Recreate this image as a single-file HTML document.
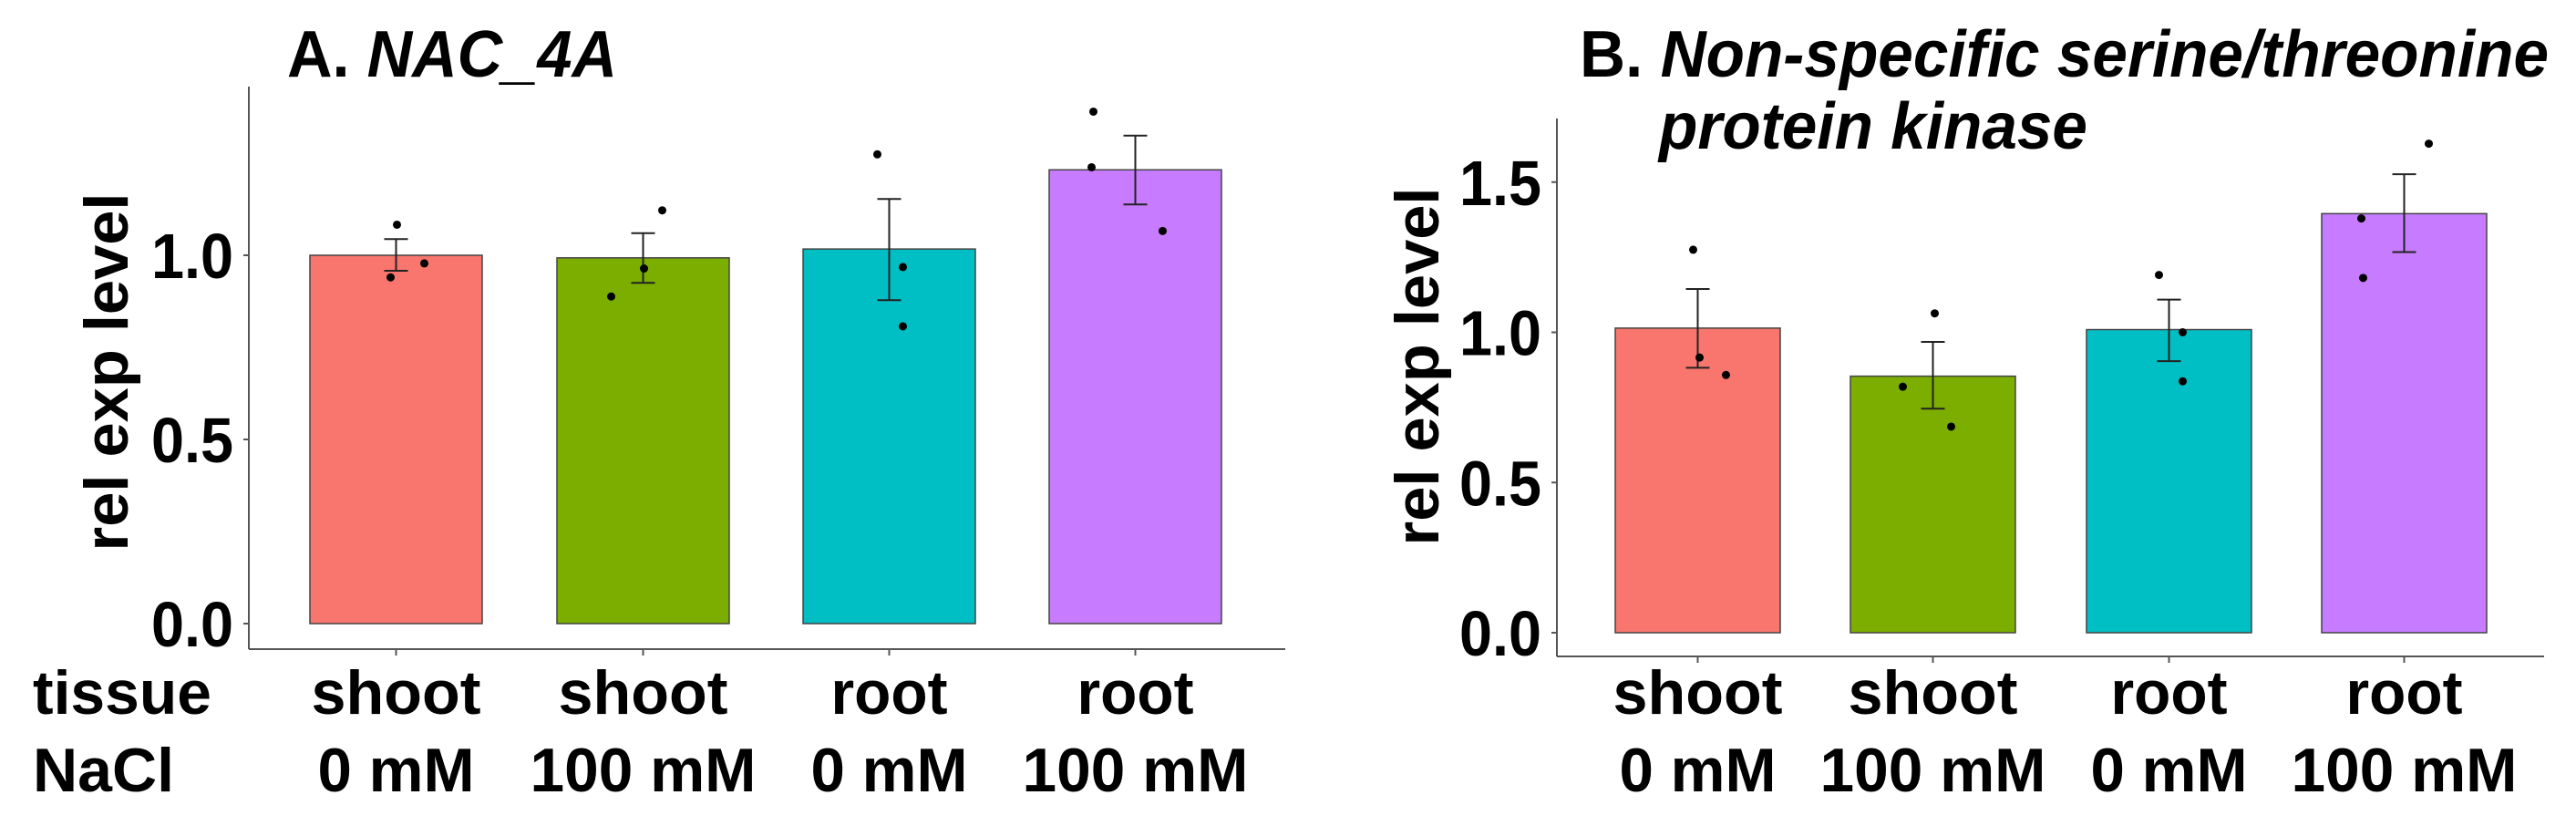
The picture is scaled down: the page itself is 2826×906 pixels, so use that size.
<!DOCTYPE html>
<html><head><meta charset="utf-8">
<style>
html,body{margin:0;padding:0;background:#fff;}
svg{display:block;font-family:"Liberation Sans",Arial,sans-serif;font-weight:bold;}
</style></head>
<body>
<svg id="fig" width="2826" height="906" viewBox="0 0 2826 906" xmlns="http://www.w3.org/2000/svg">
<g id="panelA"></g>
<g id="panelB"></g>
</svg>
<script>
const categories = ["shoot 0 mM","shoot 100 mM","root 0 mM","root 100 mM"];
const tissueLabels = ["shoot","shoot","root","root"];
const naclLabels = ["0 mM","100 mM","0 mM","100 mM"];
const colors = ["#F8766D","#7CAE00","#00BFC4","#C77CFF"];

const meansA = [1.0, 0.993, 1.017, 1.232];
const errHiA = [1.044, 1.06, 1.153, 1.325];
const errLoA = [0.958, 0.925, 0.878, 1.138];
const pointsA = [[1.083,0.978,0.94],[1.122,0.964,0.888],[1.274,0.968,0.807],[1.39,1.239,1.066]];
const ticksA = [0.0, 0.5, 1.0];
const tickLabelsA = ["0.0","0.5","1.0"];

const meansB = [1.014, 0.854, 1.009, 1.395];
const errHiB = [1.144, 0.968, 1.109, 1.526];
const errLoB = [0.882, 0.746, 0.904, 1.267];
const pointsB = [[1.275,0.916,0.858],[1.063,0.819,0.686],[1.191,1.0,0.837],[1.628,1.379,1.181]];
const ticksB = [0.0, 0.5, 1.0, 1.5];
const tickLabelsB = ["0.0","0.5","1.0","1.5"];

const NS = "http://www.w3.org/2000/svg";
function mk(parent, tag, attrs, text){
  const e = document.createElementNS(NS, tag);
  for (const k in attrs) e.setAttribute(k, attrs[k]);
  if (text !== undefined) e.textContent = text;
  parent.appendChild(e);
  return e;
}

function drawPanel(g, cfg){
  const y = v => cfg.y0 - v*cfg.unit;
  const xc = i => cfg.barL[i] + cfg.barW/2;
  // axes
  let a = mk(g,'line',{x1:cfg.axX,y1:cfg.axTop,x2:cfg.axX,y2:cfg.axY,stroke:'#555','stroke-width':2});
  
  
  a = mk(g,'line',{x1:cfg.axX,y1:cfg.axY,x2:cfg.axR,y2:cfg.axY,stroke:'#555','stroke-width':2});
  
  
  // y ticks
  cfg.ticks.forEach((t,i)=>{
    const tk = mk(g,'line',{x1:cfg.axX-6,y1:y(t),x2:cfg.axX,y2:y(t),stroke:'#555','stroke-width':2});
    
    
    const tl = mk(g,'text',{x:cfg.axX-17,y:y(t)+25,'text-anchor':'end','font-size':70,textLength:90,lengthAdjust:'spacingAndGlyphs'},cfg.tickLabels[i]);
    
    
  });
  // bars
  cfg.means.forEach((m,i)=>{
    const r = mk(g,'rect',{x:cfg.barL[i],y:y(m),width:cfg.barW,height:y(0)-y(m),fill:colors[i],stroke:'#444','stroke-width':1.5});
    
    
    const cx = xc(i);
    const eb = mk(g,'path',{d:`M${cx-13},${y(cfg.hi[i])}H${cx+13}M${cx},${y(cfg.hi[i])}V${y(cfg.lo[i])}M${cx-13},${y(cfg.lo[i])}H${cx+13}`,stroke:'#222','stroke-width':2,fill:'none'});
    
    
    cfg.points[i].forEach((p,j)=>{
      const c = mk(g,'circle',{cx:cx+cfg.jit[i][j],cy:y(p),r:4.5,fill:'#000'});
      
      
    });
    const xt = mk(g,'line',{x1:cx,y1:cfg.axY,x2:cx,y2:cfg.axY+7,stroke:'#555','stroke-width':2});
    
    
    const t1 = mk(g,'text',{x:cx,y:783,'text-anchor':'middle','font-size':68,textLength:tissueLabels[i]==='shoot'?186:128,lengthAdjust:'spacingAndGlyphs'},tissueLabels[i]);
    
    
    const t2 = mk(g,'text',{x:cx,y:868,'text-anchor':'middle','font-size':68,textLength:naclLabels[i]==='0 mM'?172:248,lengthAdjust:'spacingAndGlyphs'},naclLabels[i]);
    
    
  });
  // y title
  const yt = mk(g,'text',{x:0,y:0,'text-anchor':'middle','font-size':68,textLength:393,lengthAdjust:'spacingAndGlyphs',transform:`translate(${cfg.ytX},${cfg.ytY}) rotate(-90)`},'rel exp level');
  
  
}

const gA = document.getElementById('panelA');
drawPanel(gA,{y0:684,unit:404,axX:273,axTop:95,axY:712,axR:1410,barL:[340,611,881,1151],barW:189,
  means:meansA,hi:errHiA,lo:errLoA,points:pointsA,ticks:ticksA,tickLabels:tickLabelsA,
  jit:[[1,31,-6],[21,1,-35],[-13,15,15],[-46,-48,30]],ytX:140,ytY:408});
const gB = document.getElementById('panelB');
drawPanel(gB,{y0:694,unit:329.5,axX:1708,axTop:130,axY:720,axR:2791,barL:[1772,2030,2289,2547],barW:181,
  means:meansB,hi:errHiB,lo:errLoB,points:pointsB,ticks:ticksB,tickLabels:tickLabelsB,
  jit:[[-5,2,31],[2,-33,20],[-11,15,15],[27,-47,-45]],ytX:1578,ytY:402});

// row labels
let rl = mk(gA,'text',{x:36,y:783,'font-size':68,textLength:196,lengthAdjust:'spacingAndGlyphs'},'tissue');


rl = mk(gA,'text',{x:36,y:868,'font-size':68,textLength:155,lengthAdjust:'spacingAndGlyphs'},'NaCl');



// titles
let tA = mk(gA,'text',{x:315,y:84,'font-size':72,textLength:362,lengthAdjust:'spacingAndGlyphs'});


mk(tA,'tspan',{},'A. ');
mk(tA,'tspan',{'font-style':'italic'},'NAC_4A');
let tB = mk(gB,'text',{x:1733,y:84,'font-size':72,textLength:1063,lengthAdjust:'spacingAndGlyphs'});


mk(tB,'tspan',{},'B. ');
mk(tB,'tspan',{'font-style':'italic'},'Non-specific serine/threonine');
let tB2 = mk(gB,'text',{x:1820,y:163,'font-size':72,'font-style':'italic',textLength:470,lengthAdjust:'spacingAndGlyphs'},'protein kinase');


</script>
</body></html>
